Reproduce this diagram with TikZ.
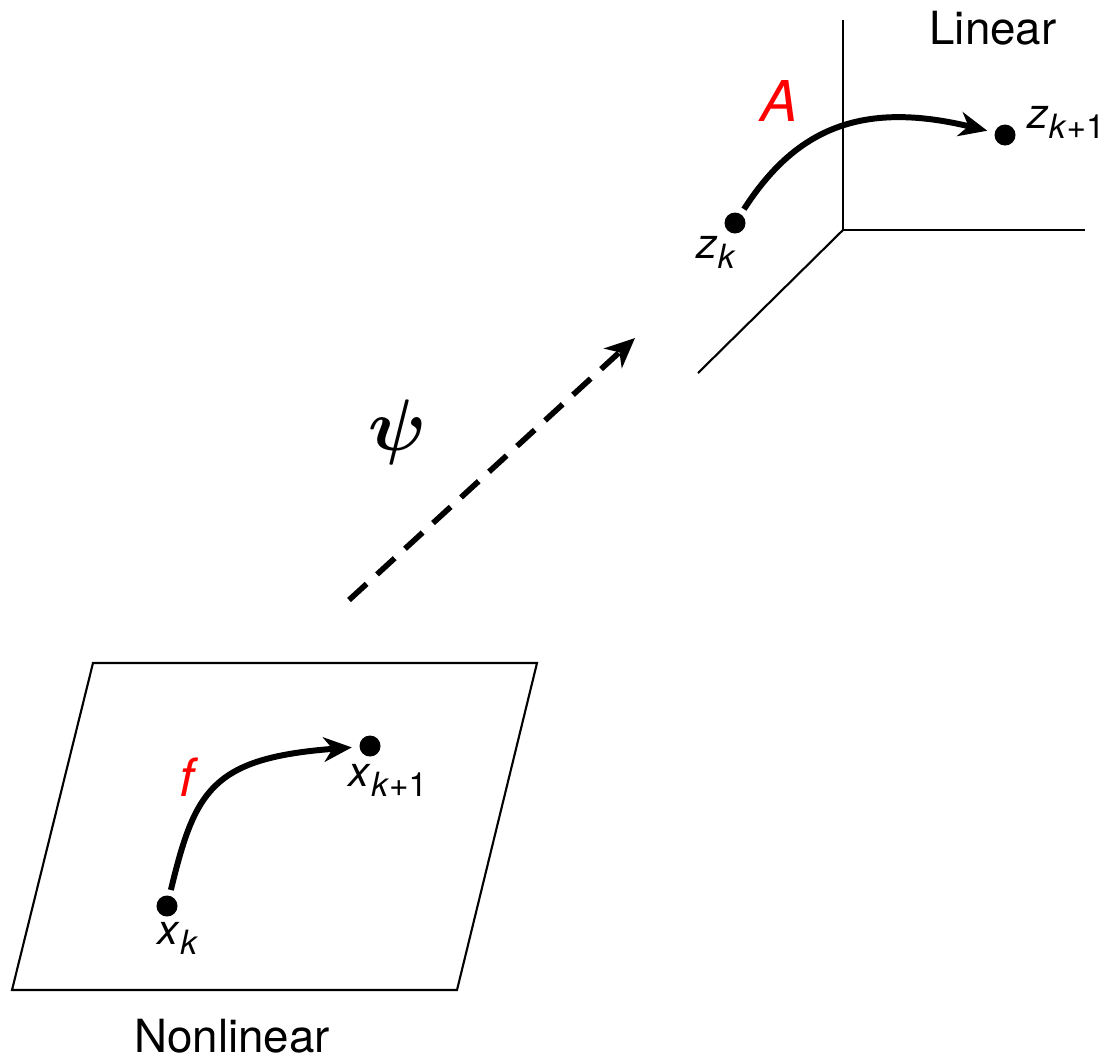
\documentclass[tikz,border=0pt]{standalone}
\usepackage{fontspec}
\setmainfont{TeX Gyre Heros}
\usepackage{amsmath,amssymb,bm}
\usetikzlibrary{arrows.meta}
\newcommand{\sub}[2]{\textit{#1}\raisebox{-0.45ex}{\fontsize{9.5}{10}\selectfont #2}}
\tikzset{
  dot/.style={circle, fill=black, inner sep=0pt, minimum size=0.21cm},
  map/.style={line width=1.7pt, -{Stealth[length=8pt,width=7pt,inset=2.5pt]}, shorten <=1.5pt, shorten >=2pt},
  axis/.style={line width=0.6pt},
  lbl/.style={font=\fontsize{12}{14}\selectfont, inner sep=1pt},
}
\begin{document}
\begin{tikzpicture}[x=0.01cm, y=-0.01cm]
    \useasboundingbox (0,0) rectangle (1107,1060);

    % 非线性空间
    \draw[axis] (93,663) -- (537,663) -- (457,990) -- (12,990) -- cycle;
    \node[font=\fontsize{13}{15}\selectfont] (nl) at (232,1036) {Nonlinear};
    \node[dot] (xk) at (167,906) {};
    \node[dot] (xk1) at (370,746) {};
    \node[lbl] at (178,938) {\sub{x}{\textit{k}}};
    \node[lbl] at (388,780) {\sub{x}{\textit{k}+1}};
    \draw[map] (xk) .. controls (195,790) and (212,758) .. (xk1);
    \node[lbl, red, font=\fontsize{15}{17}\selectfont] (f) at (189,777) {\textit{f}};

    % 线性空间
    \draw[axis] (843,20) -- (843,230) -- (1085,230);
    \draw[axis] (843,230) -- (698,373);
    \node[font=\fontsize{13}{15}\selectfont] (lin) at (993,28) {Linear};
    \node[dot] (zk) at (735,223) {};
    \node[dot] (zk1) at (1005,135) {};
    \node[lbl] at (716,252) {\sub{z}{\textit{k}}};
    \node[lbl] at (1066,122) {\sub{z}{\textit{k}+1}};
    \draw[map] (zk) .. controls (795,130) and (860,100) .. (zk1);
    \node[lbl, red, font=\fontsize{16}{18}\selectfont] (A) at (779,101) {\textit{A}};

    % 映射
    \coordinate (p0) at (349,600);
    \coordinate (p1) at (635,338);
    \draw[line width=1.6pt, dash pattern=on 6.8pt off 4pt, -{Stealth[length=8.5pt,width=7.5pt,inset=2.5pt]}] (p0) -- (p1);
    \node[font=\fontsize{20}{22}\selectfont] (psi) at (397,432) {$\bm{\psi}$};
\end{tikzpicture}
\end{document}
